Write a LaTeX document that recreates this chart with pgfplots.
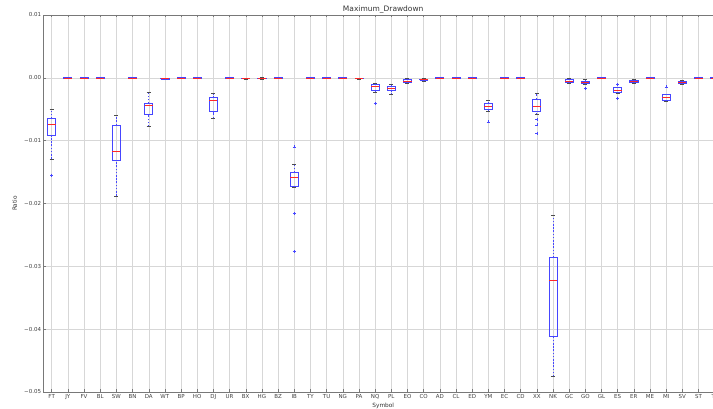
\documentclass[border=0pt]{standalone}
\usepackage{pgfplots}
\pgfplotsset{compat=1.18}
\usepackage{fontspec}
\setmainfont{DejaVu Sans}
\definecolor{gridgray}{RGB}{215,215,215}
\definecolor{axgray}{RGB}{120,120,120}
\definecolor{mblue}{RGB}{70,70,255}
\definecolor{mred}{RGB}{255,40,40}
\def\boxcoords{}\def\whiskcoords{}\def\capcoords{}\def\medcoords{}
% \bx{position}{lower whisker}{lower quartile}{median}{upper quartile}{upper whisker}
\newcommand{\bx}[6]{%
  \pgfmathsetmacro{\bxL}{#1-0.25}\pgfmathsetmacro{\bxR}{#1+0.25}%
  \pgfmathsetmacro{\capL}{#1-0.125}\pgfmathsetmacro{\capR}{#1+0.125}%
  \xdef\whiskcoords{\whiskcoords (#1,#2) (#1,#3) (#1,nan) (#1,#5) (#1,#6) (#1,nan)}%
  \xdef\capcoords{\capcoords (\capL,#2) (\capR,#2) (#1,nan) (\capL,#6) (\capR,#6) (#1,nan)}%
  \xdef\boxcoords{\boxcoords (\bxL,#3) (\bxR,#3) (\bxR,#5) (\bxL,#5) (\bxL,#3) (#1,nan)}%
  \xdef\medcoords{\medcoords (\bxL,#4) (\bxR,#4) (#1,nan)}%
}
\begin{document}
\bx{0}{-0.0129}{-0.00924}{-0.00737}{-0.00648}{-0.0050}%   FT
\bx{1}{-0.00008}{-0.00004}{-0.00002}{0}{0.00002}%         JY
\bx{2}{-0.0001}{-0.00006}{-0.00003}{0}{0.00002}%          FV
\bx{3}{-0.00008}{-0.00004}{-0.00002}{0}{0.00002}%         BL
\bx{4}{-0.01879}{-0.01311}{-0.01178}{-0.00753}{-0.00594}% SW
\bx{5}{-0.00008}{-0.00004}{-0.00002}{0}{0.00002}%         BN
\bx{6}{-0.00776}{-0.00584}{-0.00435}{-0.00409}{-0.00223}% DA
\bx{7}{-0.0003}{-0.0002}{-0.00012}{-0.00005}{0}%          WT
\bx{8}{-0.00006}{-0.00003}{-0.00001}{0}{0.00002}%         BP
\bx{9}{-0.00006}{-0.00003}{-0.00001}{0}{0.00002}%         HO
\bx{10}{-0.00642}{-0.00537}{-0.00361}{-0.00318}{-0.0025}% DJ
\bx{11}{-0.00006}{-0.00003}{-0.00001}{0}{0.00002}%        UR
\bx{12}{-0.0002}{-0.00012}{-0.00008}{-0.00003}{0}%        BX
\bx{13}{-0.0002}{-0.00014}{-0.00008}{-0.00003}{0.00005}%  HG
\bx{14}{-0.00006}{-0.00003}{-0.00001}{0}{0.00002}%        BZ
\bx{15}{-0.01736}{-0.0172}{-0.01576}{-0.01508}{-0.01381}% IB
\bx{16}{-0.00008}{-0.00004}{-0.00002}{0}{0.00002}%        TY
\bx{17}{-0.00008}{-0.00004}{-0.00002}{0}{0.00002}%        TU
\bx{18}{-0.00008}{-0.00004}{-0.00002}{0}{0.00002}%        NG
\bx{19}{-0.0002}{-0.00012}{-0.00006}{-0.00002}{0}%        PA
\bx{20}{-0.00223}{-0.00207}{-0.00143}{-0.0010}{-0.00085}% NQ
\bx{21}{-0.0026}{-0.00207}{-0.00164}{-0.00138}{-0.0011}%  PL
\bx{22}{-0.0009}{-0.00072}{-0.0005}{-0.00024}{-0.0001}%   EO
\bx{23}{-0.0005}{-0.0004}{-0.0003}{-0.0002}{-0.0001}%     CO
\bx{24}{-0.00006}{-0.00003}{-0.00001}{0}{0.00002}%        AD
\bx{25}{-0.0001}{-0.00006}{-0.00003}{0}{0.00002}%         CL
\bx{26}{-0.00006}{-0.00003}{-0.00001}{0}{0.00002}%        ED
\bx{27}{-0.00525}{-0.0051}{-0.00457}{-0.00409}{-0.00355}% YM
\bx{28}{-0.00006}{-0.00003}{-0.00001}{0}{0.00002}%        EC
\bx{29}{-0.00006}{-0.00003}{-0.00001}{0}{0.00002}%        CD
\bx{30}{-0.00578}{-0.00541}{-0.00457}{-0.00339}{-0.00244}% XX
\bx{31}{-0.04756}{-0.04108}{-0.03228}{-0.02861}{-0.02186}% NK
\bx{32}{-0.0009}{-0.00075}{-0.00053}{-0.00027}{-0.0001}%  GC
\bx{33}{-0.0011}{-0.0009}{-0.00068}{-0.0005}{-0.0003}%    GO
\bx{34}{-0.00008}{-0.00004}{-0.00002}{0}{0.00002}%        GL
\bx{35}{-0.0025}{-0.00234}{-0.00196}{-0.00159}{-0.00145}% ES
\bx{36}{-0.0009}{-0.00075}{-0.00059}{-0.0004}{-0.0002}%   ER
\bx{37}{-0.00006}{-0.00003}{-0.00001}{0}{0.00002}%        ME
\bx{38}{-0.0037}{-0.00366}{-0.00318}{-0.00271}{-0.0026}%  MI
\bx{39}{-0.001}{-0.0009}{-0.00075}{-0.0006}{-0.0004}%     SV
\bx{40}{-0.00006}{-0.00003}{-0.00001}{0}{0.00002}%        ST
\bx{41}{-0.00006}{-0.00003}{-0.00001}{0}{0.00002}%        TL
\begin{tikzpicture}
\begin{axis}[
  name=ax,
  at={(0,0)}, anchor=south west,
  scale only axis, width=679.2pt, height=377pt,
  xmin=-0.5, xmax=41.5, ymin=-0.05, ymax=0.01,
  xtick={0,...,41},
  xticklabels={FT,JY,FV,BL,SW,BN,DA,WT,BP,HO,DJ,UR,BX,HG,BZ,IB,TY,TU,NG,PA,NQ,PL,EO,CO,AD,CL,ED,YM,EC,CD,XX,NK,GC,GO,GL,ES,ER,ME,MI,SV,ST,TL},
  ytick={-0.05,-0.04,-0.03,-0.02,-0.01,0,0.01},
  yticklabels={−0.05,−0.04,−0.03,−0.02,−0.01,0.00,0.01},
  scaled y ticks=false,
  tick label style={font=\fontsize{5.5}{6}\selectfont, text=black!75},
  xticklabel style={yshift=1pt},
  yticklabel style={xshift=1pt},
  grid=major, major grid style={gridgray, line width=0.4pt},
  tick align=inside, major tick length=2.5pt, tick style={axgray, line width=0.4pt},
  axis line style={axgray, line width=0.9pt},
  title={Maximum\_Drawdown},
  title style={font=\fontsize{7.5}{8}\selectfont, text=black!80, at={(0.5,1)}, anchor=base, yshift=-3pt},
  xlabel={Symbol}, ylabel={Ratio},
  label style={font=\fontsize{5.8}{6}\selectfont, text=black!80},
  xlabel style={at={(0.5,0)}, anchor=north, yshift=-8pt},
  ylabel style={at={(0,0.5)}, anchor=south, yshift=23pt},
  unbounded coords=jump,
  clip=true,
]
\edef\plottmp{%
  \noexpand\addplot[color=mblue, line width=0.7pt, dash pattern=on 1.6pt off 1.6pt] coordinates {\whiskcoords};
  \noexpand\addplot[color=black!70, line width=0.6pt] coordinates {\capcoords};
  \noexpand\addplot[color=mblue, line width=0.8pt] coordinates {\boxcoords};
  \noexpand\addplot[color=mred, line width=0.7pt] coordinates {\medcoords};
}\plottmp
% outliers
\addplot[only marks, mark=+, mark size=1.6pt, mark options={color=mblue, line width=0.5pt}] coordinates {
  (0,-0.01549)
  (15,-0.01099) (15,-0.02161) (15,-0.02766)
  (20,-0.00409)
  (27,-0.00701)
  (30,-0.00658) (30,-0.00748) (30,-0.00881)
  (33,-0.0017)
  (35,-0.00105) (35,-0.00323)
  (38,-0.00143)
};
\end{axis}
\pgfresetboundingbox
\useasboundingbox ([xshift=-43.6pt, yshift=-17pt]ax.south west) rectangle ([xshift=669.4pt, yshift=392pt]ax.south west);
\end{tikzpicture}
\end{document}
